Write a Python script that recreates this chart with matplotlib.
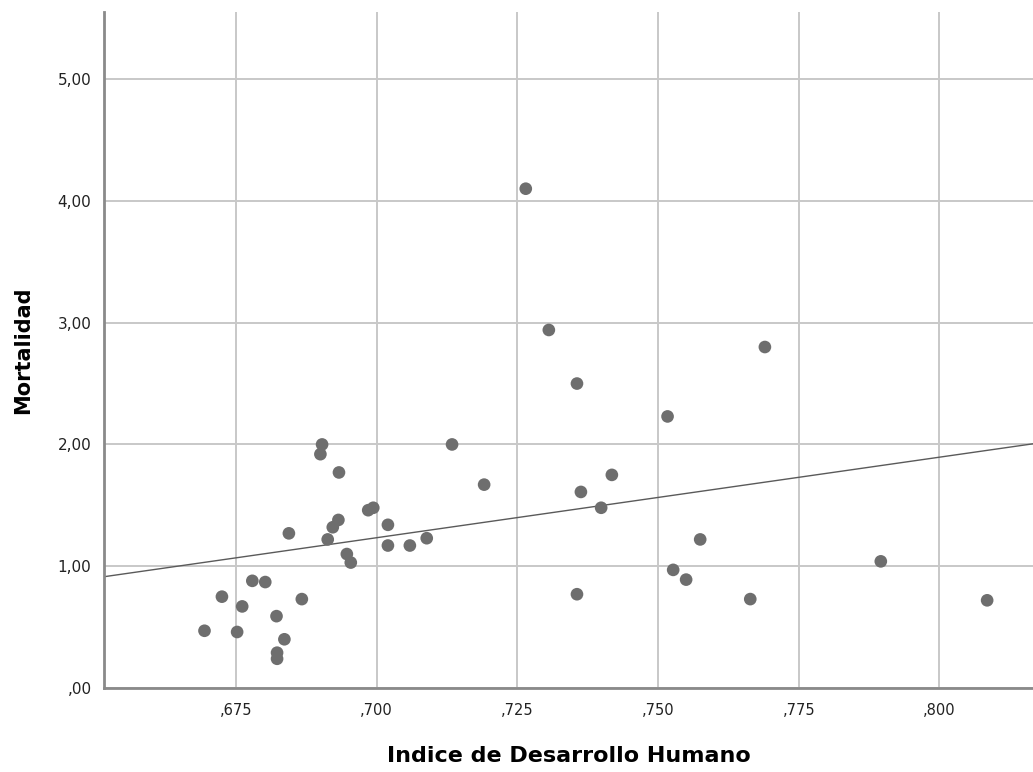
import numpy as np
import matplotlib
matplotlib.use("Agg")
import matplotlib.pyplot as plt
from matplotlib.ticker import FuncFormatter, FixedLocator

# Data (Indice de Desarrollo Humano vs Mortalidad)
idh = [0.6903, 0.6900, 0.6933, 0.7134, 0.7191, 0.6985, 0.6994, 0.7020, 0.6932,
       0.6922, 0.6844, 0.6913, 0.7020, 0.7059, 0.7089, 0.6947, 0.6954, 0.6779,
       0.6802, 0.6725, 0.6761, 0.6867, 0.6822, 0.6694, 0.6752, 0.6836, 0.6823,
       0.6823, 0.7265, 0.7306, 0.7356, 0.7517, 0.7690, 0.7363, 0.7418, 0.7399,
       0.7575, 0.7527, 0.7550, 0.7356, 0.7664, 0.7896, 0.8085]
mortalidad = [2.00, 1.92, 1.77, 2.00, 1.67, 1.46, 1.48, 1.34, 1.38,
              1.32, 1.27, 1.22, 1.17, 1.17, 1.23, 1.10, 1.03, 0.88,
              0.87, 0.75, 0.67, 0.73, 0.59, 0.47, 0.46, 0.40, 0.29,
              0.24, 4.10, 2.94, 2.50, 2.23, 2.80, 1.61, 1.75, 1.48,
              1.22, 0.97, 0.89, 0.77, 0.73, 1.04, 0.72]
x_ticks = [0.675, 0.700, 0.725, 0.750, 0.775, 0.800]
y_ticks = [0, 1, 2, 3, 4, 5]

W, H = 1033, 772
fig = plt.figure(figsize=(W / 100, H / 100), dpi=100)
fig.patch.set_facecolor("white")
ax = fig.add_axes([104 / W, (H - 688) / H, (W - 104) / W, (688 - 12) / H])

xmin, xmax = 0.65154, 0.81665
ax.set_xlim(xmin, xmax)
ax.set_ylim(0, 5.551)

ax.xaxis.set_major_locator(FixedLocator(x_ticks))
ax.yaxis.set_major_locator(FixedLocator(y_ticks))

def fmt_x(v, pos):
    return ("%.3f" % v).lstrip("0").replace(".", ",")

def fmt_y(v, pos):
    s = ("%.2f" % v).replace(".", ",")
    if s.startswith("0"):
        s = s[1:]
    return s

ax.xaxis.set_major_formatter(FuncFormatter(fmt_x))
ax.yaxis.set_major_formatter(FuncFormatter(fmt_y))

ax.grid(True, color="#c8c8c8", linewidth=1.4, zorder=0)
ax.set_axisbelow(True)
for side in ["top", "right"]:
    ax.spines[side].set_visible(False)
for side in ["left", "bottom"]:
    ax.spines[side].set_color("#8a8a8a")
    ax.spines[side].set_linewidth(2.0)

ax.tick_params(axis="both", length=0, colors="#000000")
ax.tick_params(axis="x", pad=11, labelsize=10.5)
ax.tick_params(axis="y", pad=9, labelsize=11)
for lab in ax.get_xticklabels() + ax.get_yticklabels():
    lab.set_family("DejaVu Sans")
    lab.set_color("#222222")

ax.scatter(idh, mortalidad, s=83, color="#6e6e6e", edgecolors="none", zorder=3, clip_on=False)

# Linear fit line (total)
coef = np.polyfit(idh, mortalidad, 1)
xs = np.array([xmin, xmax])
ax.plot(xs, np.polyval(coef, xs), color="#5a5a5a", linewidth=1.0, zorder=2)

fig.text((104 + W) / 2 / W, 1 - 756 / H, "Indice de Desarrollo Humano",
         ha="center", va="center", fontsize=16, fontweight="bold", family="DejaVu Sans")
fig.text(23 / W, 1 - 350 / H, "Mortalidad", rotation=90,
         ha="center", va="center", fontsize=15, fontweight="bold", family="DejaVu Sans")

fig.savefig("out.png", dpi=100, facecolor="white")
